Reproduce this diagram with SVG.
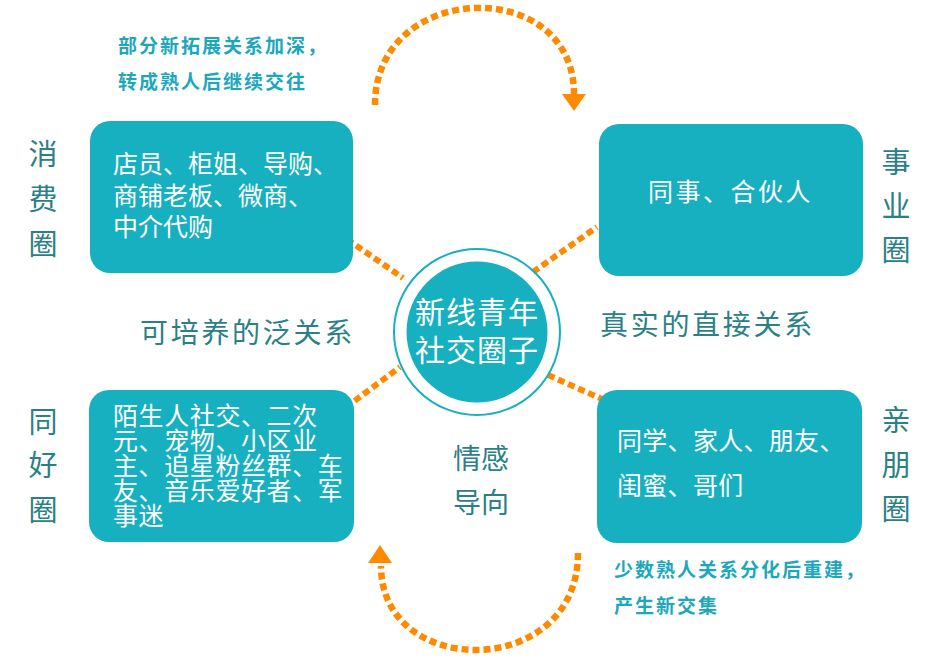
<svg xmlns="http://www.w3.org/2000/svg" width="949" height="662" viewBox="0 0 949 662">
<defs>
<style>
.box{fill:#17B0C0;}
.bt{fill:#FFFFFF;font-family:"Noto Sans CJK SC","Noto Sans",sans-serif;font-size:25px;}
.side{fill:#2B7F86;font-family:"Noto Sans CJK SC","Noto Sans",sans-serif;font-size:29px;text-anchor:middle;}
.mid{fill:#2B7F86;font-family:"Noto Sans CJK SC","Noto Sans",sans-serif;font-size:28px;}
.note{fill:#1BA8BC;font-family:"Noto Sans CJK SC","Noto Sans",sans-serif;font-size:19px;font-weight:bold;letter-spacing:2px;}
.dash{stroke:#FF8A00;stroke-width:6;stroke-dasharray:7 4;fill:none;}
.arc{stroke:#FF8A00;stroke-width:6.5;stroke-dasharray:7 4;fill:none;}
.head{fill:#FF8A00;}
</style>
</defs>
<rect width="949" height="662" fill="#FFFFFF"/>

<g id="connectors">
<line class="dash" x1="338" y1="233" x2="403" y2="278"/>
<line class="dash" x1="533" y1="272" x2="597" y2="227"/>
<line class="dash" x1="337" y1="414" x2="400" y2="367"/>
<line class="dash" x1="548" y1="375" x2="620" y2="407"/>
<path class="arc" d="M375,105 C375,-20 574,-25 574,94"/>
<polygon class="head" points="562,94 586,94 574,111"/>
<path class="arc" d="M578,553 C578,680 381,680 381,566"/>
<polygon class="head" points="368,563 392,563 380,545"/>
</g>

<g id="center">
<circle cx="477" cy="332" r="83" fill="none" stroke="#17B0C0" stroke-width="2"/>
<circle cx="477" cy="332" r="70.5" fill="#17B0C0"/>
<text x="477" y="323" fill="#FFFFFF" font-family="'Noto Sans CJK SC','Noto Sans',sans-serif" font-size="30" letter-spacing="1" text-anchor="middle">新线青年</text>
<text x="477" y="361" fill="#FFFFFF" font-family="'Noto Sans CJK SC','Noto Sans',sans-serif" font-size="30" letter-spacing="1" text-anchor="middle">社交圈子</text>
</g>

<g id="consume">
<rect class="box" x="90" y="121" width="263" height="152" rx="20"/>
<text class="bt" x="113" y="173">店员、柜姐、导购、</text>
<text class="bt" x="113" y="205">商铺老板、微商、</text>
<text class="bt" x="113" y="236">中介代购</text>
<text class="side" x="43" y="165">消</text>
<text class="side" x="43" y="210">费</text>
<text class="side" x="43" y="255">圈</text>
</g>

<g id="career">
<rect class="box" x="599" y="124" width="264" height="152" rx="20"/>
<text class="bt" x="648" y="201" letter-spacing="2.5">同事、合伙人</text>
<text class="side" x="896" y="173">事</text>
<text class="side" x="896" y="217">业</text>
<text class="side" x="896" y="261">圈</text>
</g>

<g id="hobby">
<rect class="box" x="89" y="390" width="265" height="152" rx="20"/>
<text class="bt" font-size="24" letter-spacing="0.6"><tspan x="113" y="425">陌生人社交、二次</tspan><tspan x="113" y="450">元、宠物、小区业</tspan><tspan x="113" y="475">主、追星粉丝群、车</tspan><tspan x="113" y="500">友、音乐爱好者、军</tspan><tspan x="113" y="525">事迷</tspan></text>
<text class="side" x="43" y="433">同</text>
<text class="side" x="43" y="476">好</text>
<text class="side" x="43" y="521">圈</text>
</g>

<g id="family">
<rect class="box" x="597" y="390" width="265" height="153" rx="20"/>
<text class="bt" x="617" y="450" letter-spacing="0.3">同学、家人、朋友、</text>
<text class="bt" x="617" y="495" letter-spacing="0.3">闺蜜、哥们</text>
<text class="side" x="896" y="431">亲</text>
<text class="side" x="896" y="476">朋</text>
<text class="side" x="896" y="520">圈</text>
</g>

<g id="labels">
<text class="mid" x="140" y="343" letter-spacing="2.7">可培养的泛关系</text>
<text class="mid" x="600" y="335" letter-spacing="2.7">真实的直接关系</text>
<text class="mid" x="453" y="469">情感</text>
<text class="mid" x="453" y="513">导向</text>
<text class="note" x="118" y="53">部分新拓展关系加深，</text>
<text class="note" x="118" y="89">转成熟人后继续交往</text>
<text class="note" x="614" y="577">少数熟人关系分化后重建，</text>
<text class="note" x="614" y="613">产生新交集</text>
</g>
</svg>
